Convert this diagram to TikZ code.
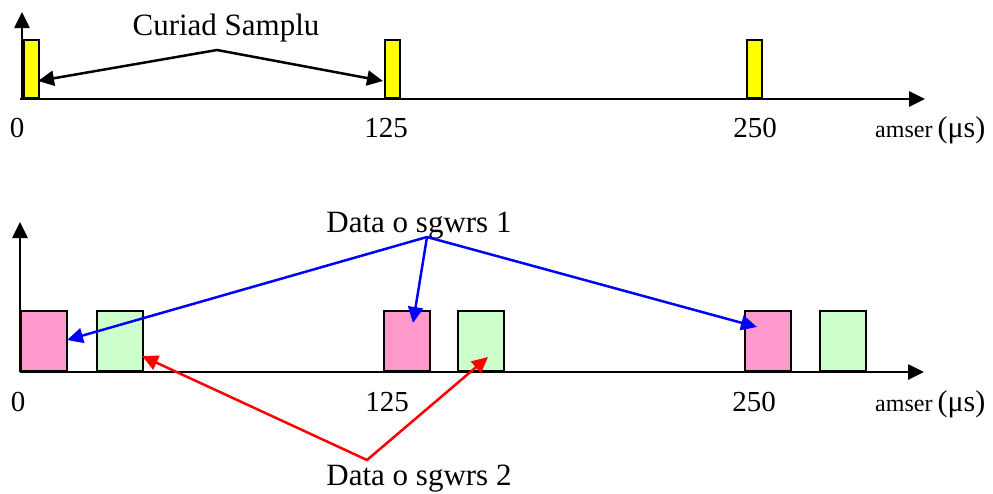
\documentclass[tikz,border=0pt]{standalone}
\usepackage{fontspec}
\setmainfont{Liberation Serif}
\usetikzlibrary{arrows.meta}
\definecolor{barYellow}{HTML}{FFFF00}
\definecolor{slotPink}{HTML}{FF99CC}
\definecolor{slotGreen}{HTML}{CCFFCC}
\definecolor{lineBlue}{HTML}{0000FF}
\definecolor{lineRed}{HTML}{FF0000}
\tikzset{
  tipshape/.style={Triangle[length=16pt,width=15pt]},
  axisline/.style={line width=2.6pt, -{Triangle[length=16pt,width=15pt]}},
  pulse/.style={draw=black, fill=barYellow, line width=1.8pt, rectangle, inner sep=0pt,
    minimum width=15pt, minimum height=58pt, anchor=south west},
  slot/.style={draw=black, line width=1.8pt, rectangle, inner sep=0pt,
    minimum width=46pt, minimum height=60pt, anchor=south west},
  pinkslot/.style={slot, fill=slotPink},
  greenslot/.style={slot, fill=slotGreen},
  pointer/.style={line width=2.5pt, {Triangle[length=16pt,width=15pt]}-{Triangle[length=16pt,width=15pt]}},
  onepointer/.style={line width=2.5pt, -{Triangle[length=16pt,width=15pt]}},
  lbl/.style={inner sep=0pt, anchor=base, font=\fontsize{31}{31}\selectfont},
  tick/.style={inner sep=0pt, anchor=base, font=\fontsize{29}{29}\selectfont},
  unit/.style={inner sep=0pt, anchor=base west},
}
\newcommand{\unitlabel}{{\fontsize{24}{24}\selectfont amser}\hspace{5pt}{\fontsize{30}{30}\selectfont (μs)}}
\begin{document}
\begin{tikzpicture}[x=1pt,y=-1pt]
  \useasboundingbox (0,0) rectangle (993,493);

  % ---- upper timeline: sampling pulses ----
  \node[pulse] (p0) at (23,99) {};
  \node[pulse] (p1) at (384,99) {};
  \node[pulse] (p2) at (746,99) {};

  \coordinate (uo) at (22,99);
  \coordinate (uy) at (22,12);
  \coordinate (ux0) at (20,99);
  \coordinate (ux) at (925,99);
  \draw[axisline] (uo) -- (uy);
  \draw[axisline] (ux0) -- (ux);

  \node[tick] (u0) at (17,137) {0};
  \node[tick] (u125) at (386,137) {125};
  \node[tick] (u250) at (755,137) {250};
  \node[unit] (uunit) at (875,137) {\unitlabel};

  \node[lbl] (cs) at (226,35) {Curiad Samplu};
  \coordinate (csapex) at (217,50);
  \coordinate (csa) at (38,81);
  \coordinate (csb) at (383,81);
  \draw[pointer] (csa) -- (csapex) -- (csb);

  % ---- lower timeline: interleaved channel slots ----
  \node[pinkslot]  (a0) at (20,372) {};
  \node[greenslot] (b0) at (96,372) {};
  \node[pinkslot]  (a1) at (383,372) {};
  \node[greenslot] (b1) at (457,372) {};
  \node[pinkslot]  (a2) at (744,372) {};
  \node[greenslot] (b2) at (819,372) {};

  \coordinate (lo) at (20,372);
  \coordinate (ly) at (20,222);
  \coordinate (lx) at (924,372);
  \draw[axisline] (lo) -- (ly);
  \draw[axisline] (lo) -- (lx);

  \node[tick] (l0) at (18,411) {0};
  \node[tick] (l125) at (387,411) {125};
  \node[tick] (l250) at (754,411) {250};
  \node[unit] (lunit) at (875,411) {\unitlabel};

  % channel 1 pointers
  \node[lbl] (d1) at (419,232) {Data o sgwrs 1};
  \coordinate (d1apex) at (427,237);
  \coordinate (d1a) at (67,340);
  \coordinate (d1b) at (413,323);
  \coordinate (d1c) at (757,327);
  \draw[onepointer, lineBlue] (d1apex) -- (d1a);
  \draw[onepointer, lineBlue] (d1apex) -- (d1b);
  \draw[onepointer, lineBlue] (d1apex) -- (d1c);

  % channel 2 pointers
  \node[lbl] (d2) at (419,485) {Data o sgwrs 2};
  \coordinate (d2apex) at (367,460);
  \coordinate (d2a) at (142,356);
  \coordinate (d2b) at (488,357);
  \draw[pointer, lineRed] (d2a) -- (d2apex) -- (d2b);
\end{tikzpicture}
\end{document}
